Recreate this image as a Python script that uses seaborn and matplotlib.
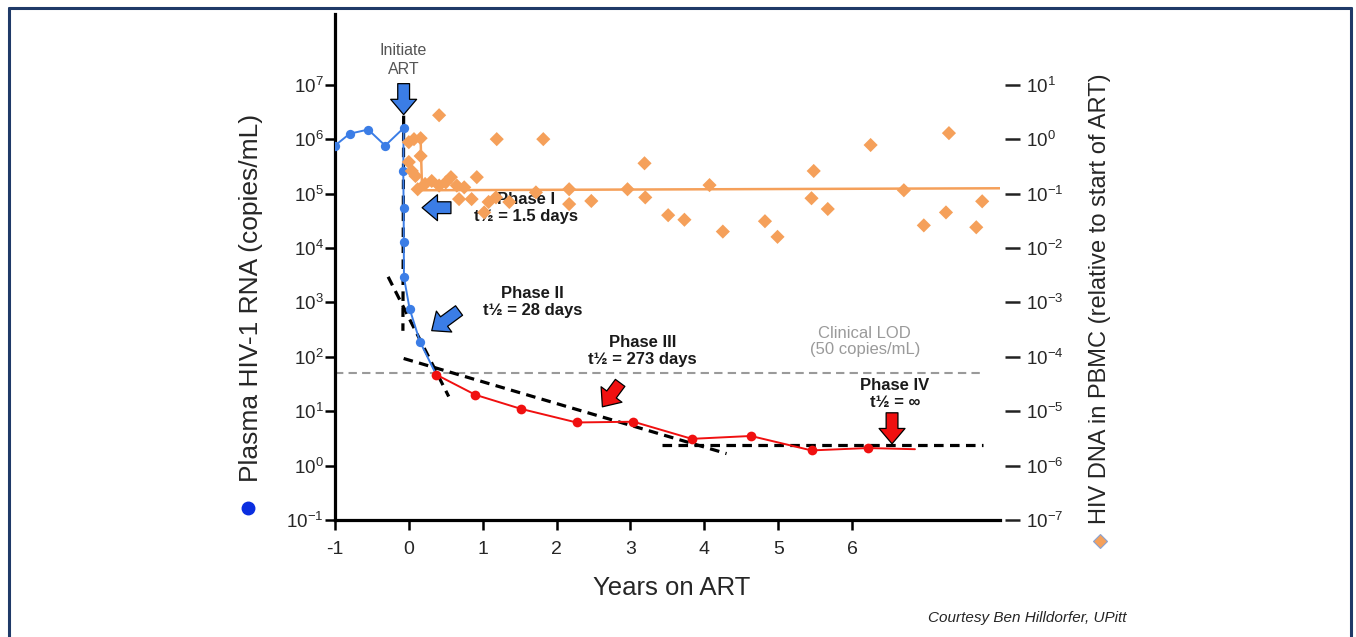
import seaborn as sns
import matplotlib.pyplot as plt
from matplotlib.lines import Line2D
from matplotlib.ticker import FixedLocator, NullLocator, LogFormatterSciNotation

# plasma HIV-1 RNA, pre-ART and phase I/II decay (copies/mL)
blue_years = [-1.0, -0.80, -0.55, -0.32, -0.07, -0.075, -0.07, -0.068, -0.066, 0.01, 0.15, 0.37]
blue_rna = [7.6e5, 1.26e6, 1.5e6, 7.6e5, 1.6e6, 2.6e5, 5.5e4, 1.26e4, 2.9e3, 770, 190, 47]

# residual viremia on ART (copies/mL), last value is the line end only
red_years = [0.37, 0.90, 1.52, 2.27, 3.04, 3.83, 4.63, 5.45, 6.21, 6.85]
red_rna = [47, 20, 11, 6.2, 6.4, 3.1, 3.5, 1.9, 2.1, 2.0]

# HIV DNA in PBMC relative to start of ART
dna_years = [0.41, 0.0, 0.07, 0.16, 0.16, 0.0, 0.04, 0.09, 0.12, 0.31, 0.41, 0.57,
             0.65, 0.92, 0.68, 0.85, 1.08, 1.02, 1.18, 1.36, 1.72, 2.17, 2.17, 2.47,
             1.19, 1.82, 2.96, 3.19, 3.20, 3.51, 3.73, 4.07, 4.25, 4.82, 4.99, 5.48,
             5.45, 5.67, 6.25, 6.70, 6.97, 7.27, 7.31, 7.68, 7.76, 0.22, 0.50, 0.75]
dna_rel = [2.75, 0.88, 1.0, 1.04, 0.49, 0.38, 0.26, 0.21, 0.12, 0.17, 0.14, 0.20,
           0.14, 0.20, 0.079, 0.079, 0.07, 0.045, 0.085, 0.07, 0.105, 0.12, 0.064, 0.073,
           1.0, 1.0, 0.12, 0.36, 0.085, 0.040, 0.033, 0.143, 0.020, 0.031, 0.016, 0.26,
           0.082, 0.052, 0.78, 0.115, 0.026, 0.045, 1.29, 0.024, 0.072, 0.15, 0.16, 0.13]
dna_fit_years = [0.02, 0.16, 0.18, 8.0]
dna_fit_rel = [1.0, 0.95, 0.115, 0.125]

# fitted decay phases (dashed)
phase1_years, phase1_rna = [-0.07, -0.08], [2.7e6, 300]
phase2_years, phase2_rna = [-0.28, 0.54], [2950, 18.6]
phase3_years, phase3_rna = [-0.07, 4.30], [93, 1.66]
phase4_years, phase4_rna = [3.43, 7.77], [2.4, 2.4]
lod_years, lod_rna = [-1.0, 7.8], [50, 50]

x_ticks = [-1, 0, 1, 2, 3, 4, 5, 6]
left_ticks = [1e-1, 1e0, 1e1, 1e2, 1e3, 1e4, 1e5, 1e6, 1e7]
right_ticks = [1e-7, 1e-6, 1e-5, 1e-4, 1e-3, 1e-2, 1e-1, 1e0, 1e1]

sns.set_theme(style="white")
plt.rcParams["font.family"] = ["Liberation Sans", "DejaVu Sans"]
plt.rcParams["mathtext.fontset"] = "custom"
plt.rcParams["mathtext.rm"] = "Liberation Sans"
plt.rcParams["mathtext.default"] = "regular"

BLUE = "#3b7de6"
RED = "#f01010"
ORANGE = "#f5a05a"

fig = plt.figure(figsize=(13.56, 6.37), dpi=100)
ax = fig.add_axes([0.247, 0.1837, 0.4904, 0.7943])
ax.set_yscale("log")
ax.set_xlim(-1, 8.0)
ax.set_ylim(1e-1, 10 ** 8.3)

ax2 = ax.twinx()
ax2.set_yscale("log")
ax2.set_ylim(1e-7, 10 ** 2.3)

# orange: DNA
sns.lineplot(x=dna_fit_years, y=dna_fit_rel, ax=ax2, color=ORANGE, lw=1.8,
             estimator=None, sort=False)
sns.scatterplot(x=dna_years, y=dna_rel, ax=ax2, marker="D", s=52, color=ORANGE,
                edgecolor="none", zorder=3)

# LOD
sns.lineplot(x=lod_years, y=lod_rna, ax=ax, color="#9a9a9a", lw=1.5,
             linestyle=(0, (4, 2.5)), estimator=None, sort=False)

# fitted phases
for fx, fy in [(phase1_years, phase1_rna), (phase2_years, phase2_rna),
               (phase3_years, phase3_rna), (phase4_years, phase4_rna)]:
    sns.lineplot(x=fx, y=fy, ax=ax, color="black", lw=2.3,
                 linestyle=(0, (3, 2)), estimator=None, sort=False, zorder=4)

# plasma RNA
sns.lineplot(x=blue_years, y=blue_rna, ax=ax, color=BLUE, lw=1.4, marker="o",
             markersize=6.7, markeredgewidth=0, markevery=list(range(len(blue_years) - 1)),
             estimator=None, sort=False, zorder=5)
sns.lineplot(x=red_years, y=red_rna, ax=ax, color=RED, lw=1.4, marker="o",
             markersize=7, markeredgewidth=0, markevery=list(range(len(red_years) - 1)),
             estimator=None, sort=False, zorder=5)

# arrows
def block_arrow(tail, tip, color):
    ax.annotate("", xy=tip, xytext=tail, zorder=6,
                arrowprops=dict(arrowstyle="simple,head_length=0.65,head_width=1.1,tail_width=0.5",
                                mutation_scale=17, fc=color, ec="black", lw=0.9,
                                shrinkA=0, shrinkB=0))

block_arrow((-0.07, 10 ** 7.02), (-0.07, 10 ** 6.45), BLUE)
block_arrow((0.57, 10 ** 4.74), (0.18, 10 ** 4.74), BLUE)
block_arrow((0.68, 10 ** 2.85), (0.31, 10 ** 2.48), BLUE)
block_arrow((2.86, 10 ** 1.52), (2.62, 10 ** 1.08), RED)
block_arrow((6.54, 10 ** 0.97), (6.54, 10 ** 0.40), RED)

# annotations
ax.text(-0.07, 10 ** 7.45, "Initiate\nART", ha="center", va="center", fontsize=11.5,
        color="#555555", linespacing=1.3)
bold = dict(ha="center", va="center", fontsize=12, fontweight="bold", color="#1a1a1a",
            linespacing=1.15)
ax.text(1.59, 10 ** 4.74, "Phase I\nt½ = 1.5 days", **bold)
ax.text(1.67, 10 ** 3.01, "Phase II\nt½ = 28 days", **bold)
ax.text(3.16, 10 ** 2.11, "Phase III\nt½ = 273 days", **bold)
ax.text(6.58, 10 ** 1.32, "Phase IV\nt½ = ∞", **bold)
ax.text(6.17, 10 ** 2.28, "Clinical LOD\n(50 copies/mL)", ha="center", va="center",
        fontsize=12, color="#9a9a9a", linespacing=1.15)

# axes styling
for s in ["top", "right"]:
    ax.spines[s].set_visible(False)
for s in ["left", "bottom"]:
    ax.spines[s].set_linewidth(2.3)
    ax.spines[s].set_color("black")
for s in ax2.spines.values():
    s.set_visible(False)

ax.xaxis.set_major_locator(FixedLocator(x_ticks))
ax.set_xticklabels([str(t) for t in x_ticks])
ax.yaxis.set_major_locator(FixedLocator(left_ticks))
ax.yaxis.set_major_formatter(LogFormatterSciNotation())
ax.yaxis.set_minor_locator(NullLocator())
ax.tick_params(axis="x", direction="out", length=7, width=1.8, labelsize=14, pad=8,
               color="black", bottom=True)
ax.tick_params(axis="y", direction="out", length=7, width=1.8, labelsize=13.5, pad=1,
               color="black", left=True)

ax2.spines["right"].set_position(("outward", 4))
ax2.yaxis.set_major_locator(FixedLocator(right_ticks))
ax2.yaxis.set_major_formatter(LogFormatterSciNotation())
ax2.yaxis.set_minor_locator(NullLocator())
ax2.tick_params(axis="y", direction="out", length=11, width=1.8, labelsize=13.5, pad=4,
                color="#222222", right=True)
ax.set_xlabel("")
ax.set_ylabel("")
ax2.set_ylabel("")

fig.text(0.185, 0.532, "Plasma HIV-1 RNA (copies/mL)", rotation=90, ha="center",
         va="center", fontsize=19)
fig.text(0.811, 0.531, "HIV DNA in PBMC (relative to start of ART)", rotation=90,
         ha="center", va="center", fontsize=17)
fig.text(0.4956, 0.077, "Years on ART", ha="center", va="center", fontsize=18.5)
fig.text(0.831, 0.030, "Courtesy Ben Hilldorfer, UPitt", ha="right", va="center",
         fontsize=11, style="italic")

fig.add_artist(Line2D([0.183], [0.2025], marker="o", markersize=9, color="#0a2ee0",
                      transform=fig.transFigure, linestyle="none"))
fig.add_artist(Line2D([0.811], [0.151], marker="D", markersize=7, color=ORANGE,
                      markeredgecolor="#8aa0d0", markeredgewidth=0.8,
                      transform=fig.transFigure, linestyle="none"))

# slide frame
frame = "#1f3a68"
fig.add_artist(Line2D([0.0066, 0.0066], [0.0, 0.9874], color=frame, lw=2.2,
                      transform=fig.transFigure))
fig.add_artist(Line2D([0.0066, 0.9963], [0.9874, 0.9874], color=frame, lw=2.2,
                      transform=fig.transFigure))
fig.add_artist(Line2D([0.9963, 0.9963], [0.0, 0.9874], color=frame, lw=2.2,
                      transform=fig.transFigure))

fig.savefig("out.png", dpi=100)
